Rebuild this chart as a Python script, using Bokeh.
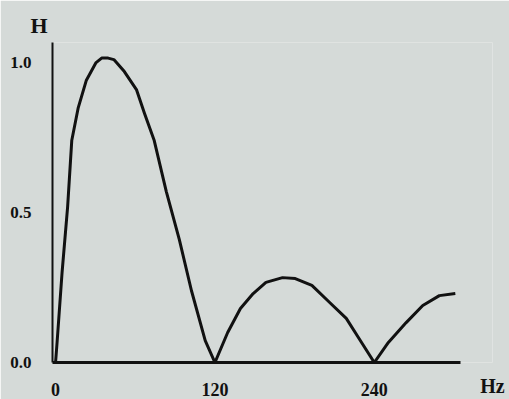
from bokeh.plotting import figure
from bokeh.models import Range1d, FixedTicker
from bokeh.embed import file_html
from bokeh.resources import INLINE

# Frequency response |H|
freq_hz = [0, 1.2, 4.9, 9.1, 12.2, 17.1, 23.1, 30.5, 34.7, 39.6, 43.9, 51.8, 60.9, 67.0,
           74.3, 83.4, 93.2, 102.3, 112.7, 120,
           129.6, 139.2, 148.8, 158.4, 170.9, 180.5, 193.0, 206.4, 218.9, 228.5, 240,
           250.6, 264.0, 276.5, 289.0, 301.0]
h_mag = [0, 0.07, 0.30, 0.52, 0.74, 0.85, 0.94, 1.0, 1.015, 1.015, 1.01, 0.97, 0.91, 0.83,
         0.74, 0.57, 0.41, 0.24, 0.073, 0,
         0.10, 0.18, 0.23, 0.267, 0.283, 0.28, 0.257, 0.20, 0.147, 0.08, 0,
         0.067, 0.133, 0.19, 0.223, 0.23]

x_ticks = [0, 120, 240]
x_tick_labels = {0: "0", 120: "120", 240: "240"}
y_ticks = [0, 0.5, 1.0]
y_tick_labels = {0: "0.0", 0.5: "0.5", 1: "1.0"}
x_axis_end = 305

bg = "#d5dad8"
ink = "#111111"
font = "Liberation Serif"

p = figure(width=509, height=399, output_backend="svg", toolbar_location=None,
           x_range=Range1d(-2.3, 329.0), y_range=Range1d(0, 1.067),
           min_border_left=52, min_border_right=17, min_border_top=42, min_border_bottom=37)
p.background_fill_color = bg
p.border_fill_color = bg
p.outline_line_color = None
p.xgrid.visible = False
p.ygrid.visible = False

p.line(freq_hz, h_mag, line_color=ink, line_width=3, line_join="round")

for ax in (p.xaxis[0], p.yaxis[0]):
    ax.major_tick_line_color = None
    ax.minor_tick_line_color = None
    ax.axis_line_color = ink
    ax.major_label_text_font = font
    ax.major_label_text_font_style = "bold"
    ax.major_label_text_color = ink

xa = p.xaxis[0]
xa.ticker = FixedTicker(ticks=x_ticks)
xa.major_label_overrides = x_tick_labels
xa.bounds = (-2.3, x_axis_end)
xa.axis_line_width = 3
xa.major_label_text_font_size = "18px"
xa.major_label_standoff = 14
xa.axis_label = "Hz"
xa.axis_label_text_font = font
xa.axis_label_text_font_style = "bold"
xa.axis_label_text_font_size = "20px"
xa.axis_label_text_color = ink
xa.axis_label_standoff = -24
xa.axis_label_align = "end"

p.yaxis[0].ticker = FixedTicker(ticks=y_ticks)
p.yaxis[0].major_label_overrides = y_tick_labels
p.yaxis[0].axis_line_width = 2
p.yaxis[0].major_label_text_font_size = "17px"
p.yaxis[0].major_label_standoff = 15

p.title.text = "H"
p.title.align = "left"
p.title.offset = -22
p.title.standoff = 9
p.title.text_font = font
p.title.text_font_style = "bold"
p.title.text_font_size = "22px"
p.title.text_color = ink

open("out.html", "w").write(file_html(p, INLINE))
